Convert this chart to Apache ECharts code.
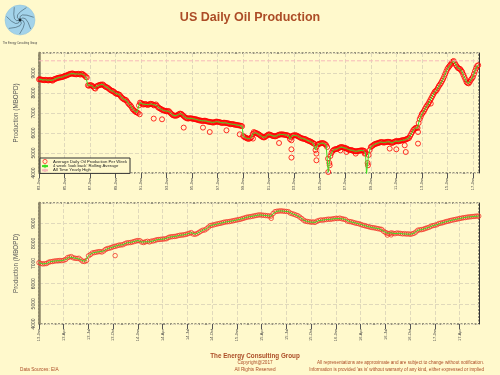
<!DOCTYPE html>
<html>
<head>
<meta charset="utf-8">
<script src="https://cdn.jsdelivr.net/npm/echarts/dist/echarts.min.js"></script>
<style>
html, body { margin: 0; padding: 0; background: #fff9cc; }
#main { width: 500px; height: 375px; }
</style>
</head>
<body>
<div id="main"></div>
<script>
// long term production, one reading per month from Jan 1983 (MBOPD)
const longTermValues = [
    8680, 8690, 8670, 8660, 8650, 8640, 8660, 8650, 8640, 8630, 8650, 8660,
    8630, 8620, 8680, 8700, 8720, 8740, 8760, 8770, 8780, 8790, 8800, 8820,
    8850, 8860, 8880, 8900, 8930, 8950, 8960, 8980, 8970, 8940, 8950, 8930,
    8950, 8960, 8940, 8920, 8960, 8950, 8900, 8870, 8800, 8780, 8380, 8360,
    8400, 8390, 8350, 8330, 8250, 8220, 8330, 8360, 8380, 8400, 8420, 8410,
    8430, 8380, 8330, 8300, 8280, 8250, 8200, 8160, 8120, 8100, 8080, 8030,
    7980, 7960, 7950, 7930, 7900, 7820, 7760, 7720, 7680, 7660, 7640, 7560,
    7480, 7420, 7380, 7300, 7200, 7150, 7100, 7050, 7030, 7000, 7380, 7520,
    7500, 7460, 7420, 7440, 7450, 7430, 7400, 7420, 7440, 7460, 7450, 7430,
    7380, 7400, 7430, 7360, 7280, 7250, 7220, 7190, 7150, 7130, 7120, 7100,
    7080, 7090, 7100, 7040, 6980, 6930, 6890, 6870, 6860, 6870, 6880, 6920,
    6960, 6970, 6950, 6900, 6850, 6800, 6760, 6740, 6720, 6730, 6740, 6730,
    6720, 6710, 6700, 6690, 6680, 6660, 6640, 6630, 6620, 6610, 6600, 6610,
    6620, 6600, 6580, 6570, 6560, 6550, 6540, 6530, 6520, 6540, 6560, 6570,
    6560, 6550, 6540, 6520, 6500, 6510, 6520, 6510, 6500, 6490, 6480, 6460,
    6440, 6450, 6450, 6430, 6420, 6410, 6400, 6390, 6380, 6370, 6360, 6340,
    5850, 5800, 5780, 5750, 5720, 5710, 5720, 5750, 5800, 5950, 6050, 6020,
    6000, 5980, 5950, 5920, 5880, 5840, 5800, 5780, 5780, 5820, 5860, 5900,
    5930, 5920, 5900, 5870, 5850, 5840, 5830, 5850, 5870, 5900, 5920, 5930,
    5930, 5930, 5920, 5910, 5900, 5890, 5880, 5850, 5700, 5800, 5860, 5880,
    5880, 5890, 5880, 5850, 5820, 5790, 5760, 5740, 5720, 5710, 5700, 5680,
    5640, 5620, 5600, 5580, 5550, 5520, 5480, 5460, 5150, 5300, 5420, 5450,
    5470, 5480, 5500, 5490, 5480, 5440, 5400, 5300, 4050, 4500, 4850, 5000,
    5100, 5150, 5180, 5190, 5200, 5220, 5250, 5280, 5300, 5290, 5280, 5260,
    5250, 5230, 5200, 5170, 5140, 5150, 5150, 5120, 5100, 5090, 5080, 5090,
    5100, 5110, 5120, 5130, 5130, 5120, 5100, 5000, 3950, 4500, 4900, 5150,
    5300, 5340, 5380, 5420, 5450, 5470, 5480, 5500, 5520, 5540, 5550, 5540,
    5520, 5530, 5540, 5550, 5560, 5560, 5550, 5520, 5500, 5530, 5560, 5580,
    5600, 5590, 5580, 5600, 5610, 5630, 5640, 5650, 5650, 5680, 5700, 5730,
    5750, 5850, 5950, 6050, 6150, 6200, 6250, 6270, 6250, 6500, 6700, 6820,
    6950, 7020, 7100, 7200, 7300, 7380, 7450, 7550, 7650, 7750, 7850, 7950,
    8050, 8100, 8150, 8250, 8350, 8420, 8500, 8600, 8700, 8820, 8950, 9080,
    9200, 9280, 9350, 9420, 9500, 9570, 9600, 9500, 9400, 9320, 9250, 9220,
    9200, 9130, 9050, 8920, 8800, 8680, 8550, 8500, 8480, 8550, 8650, 8720,
    8800, 8950, 9100, 9230, 9350, 9390
];
// odd weeks off the band: [year, MBOPD]
const longTermOutliers = [
    [1990.89, 6935], [1991.99, 6720], [1992.64, 6685], [1994.34, 6270],
    [1995.85, 6270], [1996.38, 6050], [1997.69, 6135], [1998.73, 5935],
    [1999.77, 5720], [2001.81, 5500], [2002.78, 5635], [2002.78, 5185],
    [2002.78, 4770], [2004.74, 4970], [2004.74, 4635], [2005.65, 4720],
    [2005.78, 4385], [2006.62, 5135], [2007.09, 5050], [2007.82, 4970],
    [2008.52, 4970], [2008.78, 4385], [2010.48, 5220], [2011.0, 5185],
    [2011.66, 5385], [2011.74, 5050], [2012.7, 5470], [2012.7, 6050],
    [2013.7, 7470]
];
const longTermTicks = ["83-Jan", "85-Jan", "87-Jan", "89-Jan", "91-Jan", "93-Jan",
    "95-Jan", "97-Jan", "99-Jan", "01-Jan", "03-Jan", "05-Jan", "07-Jan", "09-Jan",
    "11-Jan", "13-Jan", "15-Jan", "17-Jan"];

// recent weekly production from Jan 2013, one row per quarter (13 weeks)
const recentValues = [
    7040, 7000, 6980, 6990, 7000, 7060, 7090, 7100, 7120, 7130, 7140, 7150, 7140,
    7160, 7200, 7290, 7320, 7340, 7280, 7260, 7250, 7260, 7180, 7110, 7100, 7150,
    7380, 7440, 7520, 7540, 7560, 7580, 7590, 7570, 7620, 7700, 7740, 7760, 7790,
    7830, 7850, 7880, 7910, 7920, 7930, 7980, 8020, 8030, 8040, 8060, 8090, 8120,
    8140, 8130, 8060, 8040, 8080, 8100, 8070, 8110, 8120, 8150, 8180, 8190, 8200,
    8210, 8220, 8230, 8290, 8320, 8330, 8340, 8350, 8380, 8400, 8410, 8420, 8440,
    8470, 8500, 8530, 8460, 8450, 8480, 8540, 8600, 8650, 8660, 8720, 8800, 8880,
    8900, 8920, 8950, 8970, 8990, 9010, 9040, 9060, 9070, 9080, 9100, 9120, 9140,
    9160, 9180, 9200, 9230, 9260, 9290, 9310, 9320, 9340, 9360, 9380, 9400, 9410,
    9400, 9390, 9380, 9370, 9360, 9350, 9480, 9570, 9590, 9600, 9610, 9600, 9590,
    9580, 9570, 9500, 9470, 9440, 9400, 9370, 9300, 9230, 9150, 9100, 9080, 9070,
    9050, 9060, 9040, 9100, 9130, 9160, 9150, 9170, 9180, 9200, 9190, 9210, 9220,
    9240, 9230, 9250, 9220, 9200, 9180, 9100, 9080, 9070, 9040, 9010, 8990, 8970,
    8940, 8900, 8880, 8850, 8830, 8800, 8780, 8770, 8750, 8730, 8710, 8690, 8600,
    8540, 8500, 8480, 8520, 8500, 8480, 8510, 8500, 8490, 8470, 8480, 8460, 8470,
    8450, 8470, 8500, 8560, 8650, 8670, 8680, 8700, 8740, 8770, 8800, 8850, 8880,
    8900, 8920, 8980, 9000, 9020, 9050, 9080, 9100, 9130, 9150, 9170, 9190, 9210,
    9230, 9250, 9270, 9280, 9300, 9310, 9320, 9330, 9340, 9350, 9350
];
// [week index, MBOPD]
const recentOutliers = [[40, 7390], [122, 9240], [183, 8410], [185, 8420]];
const recentTicks = ["13-Jan", "13-Apr", "13-Jul", "13-Oct", "14-Jan", "14-Apr",
    "14-Jul", "14-Oct", "15-Jan", "15-Apr", "15-Jul", "15-Oct", "16-Jan", "16-Apr",
    "16-Jul", "16-Oct", "17-Jan", "17-Apr"];

const allTimeHigh = 9610;

const nameDots = "Average Daily Oil Production Per Week";
const nameAvg = "4 week 'look back' Rolling Average";
const nameHigh = "All Time Yearly High";

const FONT = "Liberation Sans, Arial, sans-serif";
const BROWN = "#ac4c26";
const GRIDLINE = { show: true, lineStyle: { color: "#e0d9bb", type: "dashed", width: 1 } };

// x units: years since 1983 (top), quarters since Jan 2013 (bottom)
const topMax = 34.48;
const botMax = 17.78;

let topLine = longTermValues.map((v, i) => [i / 12, v]);
let topDots = topLine.concat(longTermOutliers.map((p) => [p[0] - 1983, p[1]]));
let botLine = recentValues.map((v, i) => [i / 13, v]);
let botDots = botLine.concat(recentOutliers.map((p) => [p[0] / 13, p[1]]));

let dom = document.getElementById("main");
let myChart = echarts.init(dom, null, { renderer: "canvas" });

function xAxisOf(grid, max, ticks, step) {
    return {
        gridIndex: grid, type: "value", min: 0, max: max, interval: step,
        axisLine: { show: false },
        axisTick: { show: true, length: 5, lineStyle: { color: "#555" } },
        axisLabel: {
            rotate: 90, fontSize: 4, color: "#444", margin: 5, fontFamily: FONT,
            showMaxLabel: false,
            formatter: (v) => {
                let k = Math.round(v / step);
                return Math.abs(v / step - k) < 1e-6 && ticks[k] ? ticks[k] : "";
            },
        },
        splitLine: GRIDLINE,
    };
}
function yAxisOf(grid) {
    return {
        gridIndex: grid, type: "value", min: 4000, max: 10000, interval: 1000,
        name: "Production (MBOPD)", nameLocation: "middle", nameGap: 20,
        nameTextStyle: { fontSize: 6.3, color: "#555", fontFamily: FONT },
        axisLine: { show: true, lineStyle: { color: "#8c8568", width: 2.5 } },
        axisTick: { show: false },
        axisLabel: {
            rotate: 90, fontSize: 5, color: "#444", margin: 3, fontFamily: FONT,
            formatter: (v) => (v < 10000 ? String(v) : ""),
        },
        splitLine: GRIDLINE,
    };
}
function rightAxisOf(grid) {
    return {
        gridIndex: grid, type: "value", position: "right", min: 4000, max: 10000,
        axisLine: { show: true, lineStyle: { color: "#333", width: 1 } },
        axisTick: { show: false }, axisLabel: { show: false }, splitLine: { show: false },
    };
}
function dotsOf(xi, yi, data, color, size) {
    return {
        name: nameDots, type: "scatter", xAxisIndex: xi, yAxisIndex: yi, data: data,
        symbol: "circle", symbolSize: size, z: 2, silent: true,
        itemStyle: { color: "rgba(0,0,0,0)", borderColor: color, borderWidth: 1 },
    };
}
function avgOf(xi, yi, data) {
    return {
        name: nameAvg, type: "line", xAxisIndex: xi, yAxisIndex: yi, data: data,
        symbol: "none", z: 3, silent: true,
        lineStyle: { color: "#3ddc22", width: 1 }, itemStyle: { color: "#3ddc22" },
    };
}

let option = {
    backgroundColor: "#fff9cc",
    animation: false,
    grid: [
        { left: 39, right: 21, top: 53, height: 120, show: true, borderColor: "#333", borderWidth: 1, borderType: [2, 1.5] },
        { left: 39, right: 21, top: 203, height: 121, show: true, borderColor: "#333", borderWidth: 1, borderType: [2, 1.5] },
    ],
    legend: {
        data: [
            { name: nameDots, icon: "circle", itemStyle: { color: "rgba(0,0,0,0)", borderColor: "#ff0000", borderWidth: 0.8 } },
            { name: nameAvg },
            { name: nameHigh },
        ],
        orient: "vertical", left: 40, top: 158,
        itemWidth: 6, itemHeight: 4.2, itemGap: 0,
        padding: [1, 3, 1, 1],
        backgroundColor: "#fff9cc", borderColor: "#333", borderWidth: 1,
        selectedMode: false,
        textStyle: { fontSize: 4.25, lineHeight: 4.2, color: "#222", fontFamily: FONT },
    },
    xAxis: [
        xAxisOf(0, topMax, longTermTicks, 2),
        xAxisOf(1, botMax, recentTicks, 1),
    ],
    yAxis: [yAxisOf(0), rightAxisOf(0), yAxisOf(1), rightAxisOf(1)],
    series: [
        dotsOf(0, 0, topDots, "#ff0000", 5),
        avgOf(0, 0, topLine),
        {
            name: nameHigh, type: "line", xAxisIndex: 0, yAxisIndex: 0,
            data: [[0, allTimeHigh], [topMax, allTimeHigh]],
            symbol: "none", silent: true,
            lineStyle: { color: "#f7b9b9", type: "dashed", width: 1 },
            itemStyle: { color: "#f7b9b9" },
        },
        dotsOf(1, 2, botDots, "#f33a2a", 4.5),
        avgOf(1, 2, botLine),
    ],
    graphic: [],
};

// logo: blue disc with spiral arms
let logo = [{ type: "circle", shape: { cx: 20, cy: 20, r: 15 }, style: { fill: "#a3d3ea", stroke: "#8cc1db", lineWidth: 0.5 } }];
for (let k = 0; k < 7; k++) {
    let a = (k * 2 * Math.PI) / 7;
    let b = a + 1.6;
    logo.push({
        type: "bezierCurve",
        shape: {
            x1: 20, y1: 20,
            cpx1: 20 + 9 * Math.cos(a), cpy1: 20 + 9 * Math.sin(a),
            x2: 20 + 14 * Math.cos(b), y2: 20 + 14 * Math.sin(b),
        },
        style: { stroke: "#3d5563", lineWidth: 0.6, fill: null },
    });
}
logo.push({ type: "circle", shape: { cx: 20, cy: 20, r: 1.4 }, style: { fill: "#1c2a33" } });
logo.push({ type: "text", style: { text: "The Energy Consulting Group", x: 20, y: 43, fill: "#444", font: "2.6px " + FONT, textAlign: "center", textVerticalAlign: "middle" } });

function label(text, x, y, size, align, bold) {
    return {
        type: "text",
        style: {
            text: text, x: x, y: y, fill: BROWN,
            font: (bold ? "bold " : "") + size + "px " + FONT,
            textAlign: align, textVerticalAlign: "middle",
        },
    };
}

option.graphic = logo.concat([
    label("US Daily Oil Production", 250, 18, 12.5, "center", true),
    label("The Energy Consulting Group", 255, 356, 6.3, "center", true),
    label("Copyright@2017", 255, 363, 4.7, "center", false),
    label("All Rights Reserved", 255, 370, 4.7, "center", false),
    label("Data Sources: EIA", 20, 370, 4.7, "left", false),
    label("All representations are approximate and are subject to change without notification.", 484, 363, 4.6, "right", false),
    label("Information is provided 'as is' without warranty of any kind, either expressed or implied", 484, 370, 4.6, "right", false),
]);

if (option && typeof option === "object") {
    myChart.setOption(option);
}

window.addEventListener("resize", myChart.resize);
</script>
</body>
</html>
